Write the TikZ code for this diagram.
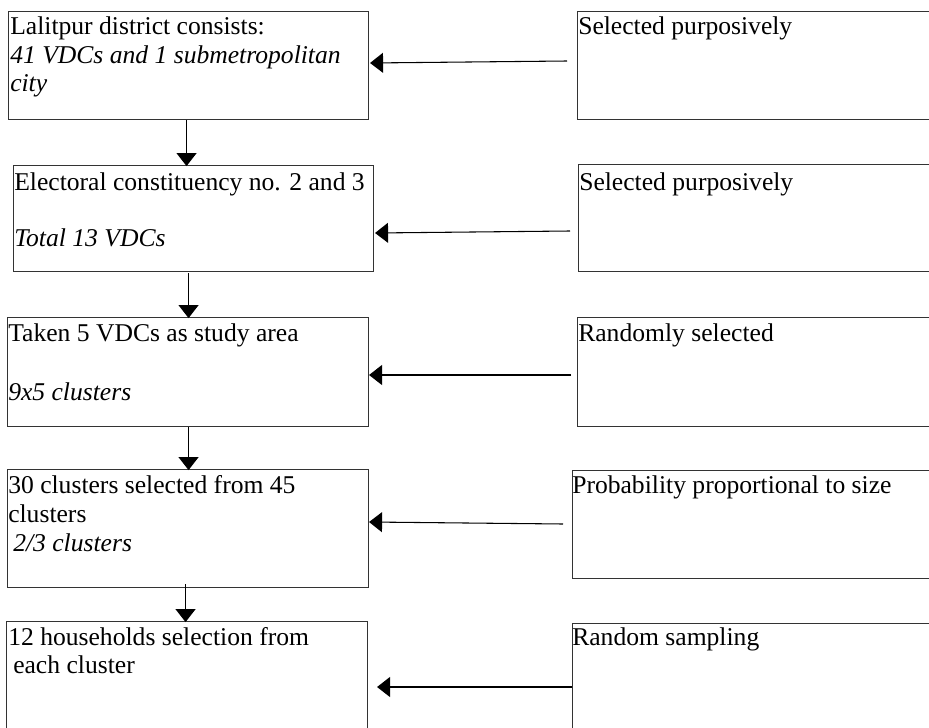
\documentclass[tikz,border=0pt]{standalone}
\usepackage{fontspec}
\setmainfont{Liberation Serif}
\usetikzlibrary{arrows.meta,calc}
\begin{document}
\begin{tikzpicture}[x=0.75pt,y=-0.75pt,
  box/.style={draw=black!80,line width=0.8pt,rectangle,inner sep=0pt,anchor=north west},
  txt/.style={anchor=base west,inner sep=0pt,font=\fontsize{19.2}{21}\selectfont},
  itxt/.style={txt,font=\fontsize{19.2}{21}\selectfont\itshape},
  arr/.style={draw=black,line width=0.8pt,-{Triangle[length=9.75pt,width=15pt]}}]
\useasboundingbox (0,0) rectangle (929,728);
\clip (0,0) rectangle (929,728);
% left boxes
\node[box,minimum width={360*0.75pt},minimum height={108*0.75pt}] (l1) at (8,11) {};
\node[box,minimum width={360*0.75pt},minimum height={106*0.75pt}] (l2) at (13,165) {};
\node[box,minimum width={361*0.75pt},minimum height={109*0.75pt}] (l3) at (7,317) {};
\node[box,minimum width={361*0.75pt},minimum height={118*0.75pt}] (l4) at (7,469) {};
\node[box,minimum width={361*0.75pt},minimum height={130*0.75pt}] (l5) at (6,621) {};
% right boxes
\node[box,minimum width={370*0.75pt},minimum height={108*0.75pt}] (r1) at (577,11) {};
\node[box,minimum width={370*0.75pt},minimum height={107*0.75pt}] (r2) at (578,164) {};
\node[box,minimum width={370*0.75pt},minimum height={109*0.75pt}] (r3) at (577,317) {};
\node[box,minimum width={375*0.75pt},minimum height={108*0.75pt}] (r4) at (572,470) {};
\node[box,minimum width={375*0.75pt},minimum height={130*0.75pt}] (r5) at (572,623) {};
% texts
\node[txt] (t1a) at (10,35) {Lalitpur district consists:};
\node[itxt] (t1b) at (10,63) {41 VDCs and 1 submetropolitan};
\node[itxt] (t1c) at (10,91) {city};
\node[txt] (t2a) at (14,190) {Electoral constituency no. 2 and 3};
\node[itxt] (t2b) at (14,246) {Total 13 VDCs};
\node[txt] (t3a) at (8,341) {Taken 5 VDCs as study area};
\node[itxt] (t3b) at (8,400) {9x5 clusters};
\node[txt] (t4a) at (8,493) {30 clusters selected from 45};
\node[txt] (t4b) at (8,522) {clusters};
\node[itxt] (t4c) at (13,551) {2/3 clusters};
\node[txt] (t5a) at (8,645) {12 households selection from};
\node[txt] (t5b) at (13,673) {each cluster};
\node[txt] (s1) at (578,35) {Selected purposively};
\node[txt] (s2) at (579,190) {Selected purposively};
\node[txt] (s3) at (578,341) {Randomly selected};
\node[txt] (s4) at (572,493) {Probability proportional to size};
\node[txt] (s5) at (572,645) {Random sampling};
% horizontal arrows
\draw[arr] ($(r1.north west)+(-10,50)$) -- ($(l1.north east)+(1,52)$);
\draw[arr] ($(r2.north west)+(-8,67)$) -- ($(l2.north east)+(1,68)$);
\draw[arr] ($(r3.north west)+(-6,58)$) -- ($(l3.north east)+(0,58)$);
\draw[arr] ($(r4.north west)+(-9,54)$) -- ($(l4.north east)+(0,53)$);
\draw[arr] ($(r5.north west)+(0,64)$) -- ($(l5.north east)+(9,66)$);
% vertical arrows
\draw[arr] ($(l1.south)+(-2,0)$) -- ($(l1.south)+(-2,46)$);
\draw[arr] ($(l2.south)+(-5,1)$) -- ($(l2.south)+(-5,46)$);
\draw[arr] ($(l3.south)+(0.5,0)$) -- ($(l3.south)+(0.5,43)$);
\draw[arr] ($(l4.south)+(-2.5,-4)$) -- ($(l4.south)+(-2.5,34)$);
\end{tikzpicture}
\end{document}
